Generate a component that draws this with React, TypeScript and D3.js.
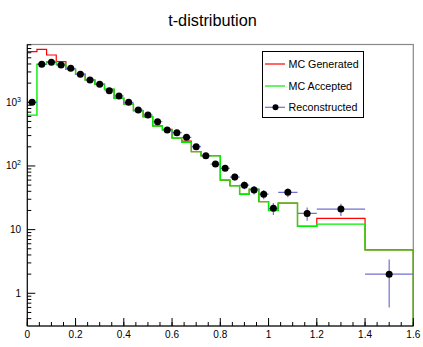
import React from "react";
import * as d3 from "d3";

// Bin edges of the t histograms (variable width at high |t|)
const binEdges = [
  0, 0.04, 0.08, 0.12, 0.16, 0.2, 0.24, 0.28, 0.32, 0.36, 0.4, 0.44, 0.48, 0.52,
  0.56, 0.6, 0.64, 0.68, 0.72, 0.76, 0.8, 0.84, 0.88, 0.92, 0.96, 1.0, 1.04,
  1.12, 1.2, 1.4, 1.6,
];

// MC generated counts per bin
const mcGenerated = [
  6240, 6800, 5530, 4350, 3300, 2760, 2240, 1920, 1600, 1156, 940, 738, 594,
  425, 377, 275, 245, 168, 145, 145, 60, 49, 36, 43, 27.5, 20, 26, 11.3, 15,
  4.8,
];

// MC accepted counts per bin
const mcAccepted = [
  630, 3950, 4350, 3950, 3300, 2760, 2240, 1920, 1600, 1156, 940, 738, 594,
  425, 367, 275, 236, 168, 145, 145, 60, 49, 36, 43, 27.5, 20, 26, 11.3, 12.2,
  4.8,
];

// Reconstructed counts per bin and their statistical errors
const reconstructed = [
  1000, 3950, 4250, 3850, 3420, 2750, 2240, 1920, 1520, 1256, 1000, 757, 632,
  495, 367, 333, 282, 201, 145, 107, 92, 67, 50, 42, 36, 21.6, 38.6, 18, 21,
  2.0,
];
const reconstructedErr = [
  31.6, 62.8, 65.2, 62, 58.5, 52.4, 47.3, 43.8, 39, 35.4, 31.6, 27.5, 25.1,
  22.2, 19.2, 18.2, 16.8, 14.2, 12, 10.3, 9.6, 8.2, 7.1, 6.5, 6, 4.6, 6.2, 4.2,
  4.6, 1.4,
];

const xTicks = [0, 0.2, 0.4, 0.6, 0.8, 1, 1.2, 1.4, 1.6];
const xTickLabels = ["0", "0.2", "0.4", "0.6", "0.8", "1", "1.2", "1.4", "1.6"];
const yTicks = [1, 10, 100, 1000];

const legendEntries = ["MC Generated", "MC Accepted", "Reconstructed"];

const W = 423;
const H = 347;
const FONT = "'Liberation Sans', Arial, Helvetica, sans-serif";

const RED = "#ff0000";
const GREEN = "#00ee00";
const BLUE = "#7070d0";

export default function App() {
  const left = 27.3;
  const right = 413.3;
  const top = 44.5;
  const bottom = 326;

  const x = d3.scaleLinear().domain([0, 1.6]).range([left, right]);
  const y = d3.scaleLog().domain([0.3064, 8090]).range([bottom, top]);

  const histPath = (vals: number[]) => {
    const p = d3.path();
    p.moveTo(x(binEdges[0]), bottom);
    vals.forEach((v, i) => {
      p.lineTo(x(binEdges[i]), y(v));
      p.lineTo(x(binEdges[i + 1]), y(v));
    });
    p.lineTo(x(binEdges[binEdges.length - 1]), bottom);
    return p.toString();
  };

  const xMinor = d3.range(0, 1.6001, 0.05);
  const yMinor: number[] = [];
  for (let e = -1; e <= 3; e++) {
    for (let k = 2; k <= 9; k++) {
      const v = k * Math.pow(10, e);
      if (v > 0.3064 && v < 8090) yMinor.push(v);
    }
  }

  const supLabel = (v: number) => {
    if (v === 1) return <tspan>1</tspan>;
    if (v === 10) return <tspan>10</tspan>;
    const exp = Math.round(Math.log10(v));
    return (
      <>
        <tspan>10</tspan>
        <tspan dy={-4} fontSize={7}>
          {exp}
        </tspan>
      </>
    );
  };

  const legendY = [64, 86, 107.3];

  return (
    <svg
      width={W}
      height={H}
      style={{ position: "fixed", left: 0, top: 0, background: "#fff" }}
      fontFamily={FONT}
    >
      <rect x={0} y={0} width={W} height={H} fill="#fff" />
      <text x={212.5} y={26} textAnchor="middle" fontSize={16.3} fill="#000">
        t-distribution
      </text>

      <defs>
        <clipPath id="plotClip">
          <rect x={left} y={top} width={right - left} height={bottom - top} />
        </clipPath>
      </defs>

      {/* frame */}
      <rect
        x={left}
        y={top}
        width={right - left}
        height={bottom - top}
        fill="none"
        stroke="#888"
        strokeWidth={1.2}
      />

      <g clipPath="url(#plotClip)">
        <path d={histPath(mcGenerated)} fill="none" stroke={RED} strokeWidth={1.2} />
        <path d={histPath(mcAccepted)} fill="none" stroke={GREEN} strokeWidth={1.4} />

        {reconstructed.map((v, i) => {
          const cx = x((binEdges[i] + binEdges[i + 1]) / 2);
          const cy = y(v);
          const e = reconstructedErr[i];
          return (
            <g key={i}>
              <line
                x1={x(binEdges[i])}
                x2={x(binEdges[i + 1])}
                y1={cy}
                y2={cy}
                stroke={BLUE}
                strokeWidth={1.2}
              />
              <line
                x1={cx}
                x2={cx}
                y1={y(v + e)}
                y2={y(Math.max(v - e, 0.31))}
                stroke={BLUE}
                strokeWidth={1.2}
              />
              <circle cx={cx} cy={cy} r={3.5} fill="#000" />
            </g>
          );
        })}
      </g>

      {/* axes */}
      <line x1={left} x2={right} y1={bottom} y2={bottom} stroke="#000" strokeWidth={1} />
      <line x1={left} x2={left} y1={top} y2={bottom} stroke="#000" strokeWidth={1} />

      {xMinor.map((t, i) => (
        <line key={"xm" + i} x1={x(t)} x2={x(t)} y1={bottom} y2={bottom - 4} stroke="#000" />
      ))}
      {xTicks.map((t, i) => (
        <g key={"xt" + i}>
          <line x1={x(t)} x2={x(t)} y1={bottom} y2={bottom - 8} stroke="#000" />
          <text x={x(t)} y={338} textAnchor="middle" fontSize={10} fill="#000">
            {xTickLabels[i]}
          </text>
        </g>
      ))}

      {yMinor.map((t, i) => (
        <line key={"ym" + i} x1={left} x2={left + 4} y1={y(t)} y2={y(t)} stroke="#000" />
      ))}
      {yTicks.map((t, i) => (
        <g key={"yt" + i}>
          <line x1={left} x2={left + 8} y1={y(t)} y2={y(t)} stroke="#000" />
          <text x={21} y={y(t) + 3.5} textAnchor="end" fontSize={10} fill="#000">
            {supLabel(t)}
          </text>
        </g>
      ))}

      {/* legend */}
      <rect x={262.5} y={51.5} width={101} height={66} fill="#fff" stroke="#000" strokeWidth={1} />
      {legendEntries.map((name, i) => {
        const ly = legendY[i];
        const color = i === 0 ? RED : i === 1 ? GREEN : BLUE;
        return (
          <g key={name}>
            <line x1={265} x2={285} y1={ly} y2={ly} stroke={color} strokeWidth={1.2} />
            {i === 2 && <circle cx={275.5} cy={ly} r={3} fill="#000" />}
            <text x={288.5} y={ly + 3.8} fontSize={10.7} fill="#000">
              {name}
            </text>
          </g>
        );
      })}
    </svg>
  );
}
